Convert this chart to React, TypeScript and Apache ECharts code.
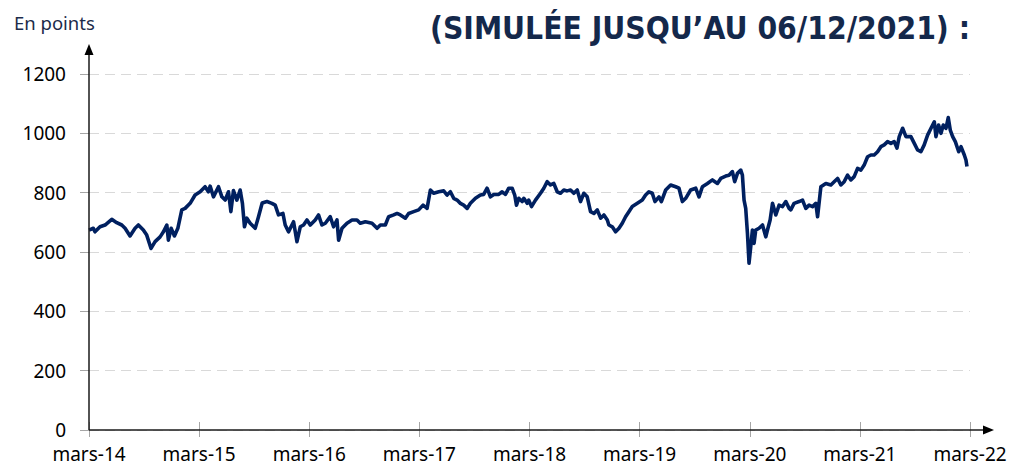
import React, { useEffect, useRef } from "react";
import * as echarts from "echarts";

// months since mars-14
const months = [
  0, 0.47, 0.65, 1.2, 1.75, 2.48, 3.02, 3.57, 3.93, 4.47, 5.02, 5.38, 5.92, 6.29, 6.76, 7.2, 7.75, 8.11, 8.48, 8.65,
  8.95, 9.31, 9.68, 10.11, 10.47, 11.02, 11.56, 12.11, 12.65, 13.01, 13.2, 13.56, 14.11, 14.48, 14.84, 15.2, 15.46, 15.74, 16.11, 16.47,
  16.72, 16.94, 17.2, 17.56, 18.11, 18.47, 18.87, 19.39, 19.93, 20.29, 20.65, 21.13, 21.38, 21.74, 22.11, 22.29, 22.66, 23.02, 23.38, 23.75,
  24.11, 24.65, 25.01, 25.38, 25.75, 26.29, 26.65, 27.02, 27.2, 27.57, 28.11, 28.66, 29.2, 29.56, 30.11, 30.84, 31.39, 31.75, 32.29, 32.65,
  33.2, 33.57, 33.93, 34.47, 34.83, 35.38, 35.92, 36.4, 36.84, 37.2, 37.56, 38.11, 38.65, 39.02, 39.38, 39.74, 40.11, 40.47, 40.83, 41.2,
  41.56, 42.11, 42.65, 43.01, 43.38, 43.74, 44.11, 44.65, 45.02, 45.38, 45.74, 46.11, 46.39, 46.58, 46.83, 47.2, 47.38, 47.75, 47.92, 48.22,
  48.65, 49.2, 49.56, 49.93, 50.29, 50.65, 51.02, 51.38, 51.74, 52.11, 52.47, 52.83, 53.2, 53.56, 53.92, 54.29, 54.65, 55.02, 55.38, 55.75,
  56.11, 56.48, 56.65, 57.02, 57.38, 57.75, 58.11, 58.47, 58.83, 59.2, 59.75, 60.29, 60.65, 61.01, 61.38, 61.67, 62.11, 62.37, 62.84, 63.38,
  63.93, 64.29, 64.66, 65.02, 65.56, 66.11, 66.47, 66.84, 67.39, 67.93, 68.48, 68.84, 69.38, 69.74, 70.11, 70.36, 70.66, 71.02, 71.2, 71.38,
  71.56, 71.75, 71.92, 72.11, 72.29, 72.47, 72.65, 73.01, 73.39, 73.75, 73.93, 74.22, 74.48, 74.84, 75.2, 75.57, 75.93, 76.29, 76.47, 76.83,
  77.38, 77.75, 78.11, 78.47, 78.84, 79.2, 79.39, 79.75, 80.29, 80.84, 81.2, 81.57, 81.93, 82.29, 82.66, 83.02, 83.38, 83.75, 84.11, 84.47,
  84.84, 85.2, 85.56, 85.93, 86.29, 86.65, 87.02, 87.38, 87.74, 88.04, 88.29, 88.66, 89.02, 89.56, 89.93, 90.29, 90.65, 91.01, 91.38, 91.75,
  92.11, 92.29, 92.58, 92.84, 93.09, 93.38, 93.63, 93.85, 94.11, 94.4, 94.77, 95.02, 95.38, 95.56, 95.67,
];

const values = [
  674, 680, 668, 685, 691, 710, 699, 691, 680, 654, 680, 691, 674, 657, 612, 635, 651, 668, 691, 640,
  680, 654, 680, 742, 747, 764, 792, 803, 820, 803, 822, 786, 820, 786, 775, 803, 736, 807, 775, 809,
  764, 685, 714, 697, 680, 719, 765, 770, 764, 758, 725, 730, 691, 668, 691, 702, 635, 685, 691, 708,
  691, 708, 725, 691, 697, 719, 685, 708, 640, 680, 697, 708, 708, 697, 702, 697, 680, 691, 691, 719,
  725, 730, 725, 714, 730, 736, 742, 758, 747, 809, 798, 803, 806, 792, 803, 781, 775, 764, 758, 747,
  764, 781, 792, 794, 815, 786, 794, 794, 803, 794, 815, 815, 792, 758, 781, 770, 781, 764, 775, 753,
  775, 798, 815, 837, 826, 831, 803, 798, 809, 806, 809, 798, 809, 770, 798, 786, 736, 730, 742, 714,
  725, 708, 691, 685, 668, 680, 697, 719, 736, 753, 764, 775, 792, 803, 798, 770, 786, 770, 809, 826,
  820, 815, 770, 781, 809, 815, 786, 820, 831, 843, 831, 848, 856, 859, 871, 837, 865, 876, 859, 775,
  747, 663, 562, 618, 674, 629, 674, 680, 691, 651, 674, 708, 764, 725, 758, 753, 770, 747, 742, 764,
  770, 775, 747, 758, 753, 764, 719, 820, 831, 826, 837, 848, 826, 837, 859, 843, 854, 882, 876, 893,
  921, 927, 927, 938, 955, 961, 972, 966, 972, 950, 989, 1017, 989, 989, 966, 944, 938, 961, 994, 1017,
  1039, 989, 1028, 1000, 1028, 1017, 1053, 1011, 989, 972, 938, 955, 927, 910, 888,
];

const tickLabels = [
  "mars-14", "mars-15", "mars-16", "mars-17", "mars-18", "mars-19", "mars-20", "mars-21", "mars-22",
];

const unitLabel = "En points";
const titleText = "(SIMULÉE JUSQU\u2019AU 06/12/2021) :";

export default function App() {
  const ref = useRef<HTMLDivElement>(null);
  useEffect(() => {
    if (!ref.current) return;
    const chart = echarts.init(ref.current, null, { renderer: "svg" });
    const data = months.map((m, i) => [m, values[i]]);
    const axisFont = { fontFamily: "Noto Sans", fontSize: 19, color: "#000" };
    chart.setOption({
      animation: false,
      title: [
        {
          text: unitLabel,
          left: 9,
          top: 8,
          textStyle: { fontFamily: "Noto Sans", fontSize: 18.5, fontWeight: "normal", color: "#1c2b4a" },
        },
        {
          text: titleText,
          right: 38,
          top: 7,
          textStyle: {
            fontFamily: "Liberation Sans Narrow, DejaVu Sans Condensed, Roboto",
            fontSize: 31.5,
            fontWeight: "bold",
            color: "#14284b",
          },
        },
      ],
      grid: { left: 89, right: 43, top: 74, bottom: 38, containLabel: false },
      xAxis: [
        {
          type: "value",
          min: 0,
          max: 96,
          interval: 12,
          axisLine: { show: false },
          axisTick: { show: true, length: 7, lineStyle: { color: "#a6a6a6", width: 1 } },
          axisLabel: {
            ...axisFont,
            margin: 14,
            formatter: (v: number) => tickLabels[Math.round(v / 12)] ?? "",
          },
          splitLine: { show: false },
        },
        {
          type: "value",
          min: 0,
          max: 96,
          interval: 12,
          position: "bottom",
          axisLine: { show: false },
          axisTick: { show: true, inside: true, length: 8, lineStyle: { color: "#a6a6a6", width: 1 } },
          axisLabel: { show: false },
          splitLine: { show: false },
        },
      ],
      yAxis: {
        type: "value",
        min: 0,
        max: 1200,
        interval: 200,
        axisLine: { show: false },
        axisTick: { show: true, length: 9, lineStyle: { color: "#a6a6a6", width: 1 } },
        axisLabel: { ...axisFont, margin: 23, formatter: (v: number) => String(v) },
        splitLine: { show: true, lineStyle: { color: "#d9d9d9", type: [10, 6], width: 1 } },
      },
      graphic: [
        { type: "line", shape: { x1: 89, y1: 430, x2: 986, y2: 430 }, style: { stroke: "#1a1a1a", lineWidth: 1.5 }, z: 50 },
        { type: "polygon", shape: { points: [[994, 430], [983, 425.5], [983, 434.5]] }, style: { fill: "#000" }, z: 50 },
        { type: "line", shape: { x1: 89, y1: 430, x2: 89, y2: 52 }, style: { stroke: "#1a1a1a", lineWidth: 1.5 }, z: 50 },
        { type: "polygon", shape: { points: [[89, 44], [84.5, 55], [93.5, 55]] }, style: { fill: "#000" }, z: 50 },
      ],
      series: [
        {
          type: "line",
          data,
          showSymbol: false,
          xAxisIndex: 0,
          lineStyle: { color: "#002060", width: 3.6, join: "round" },
          z: 10,
        },
      ],
    });
    return () => chart.dispose();
  }, []);
  return <div ref={ref} style={{ width: 1013, height: 468, position: "absolute", left: 0, top: 0 }} />;
}
